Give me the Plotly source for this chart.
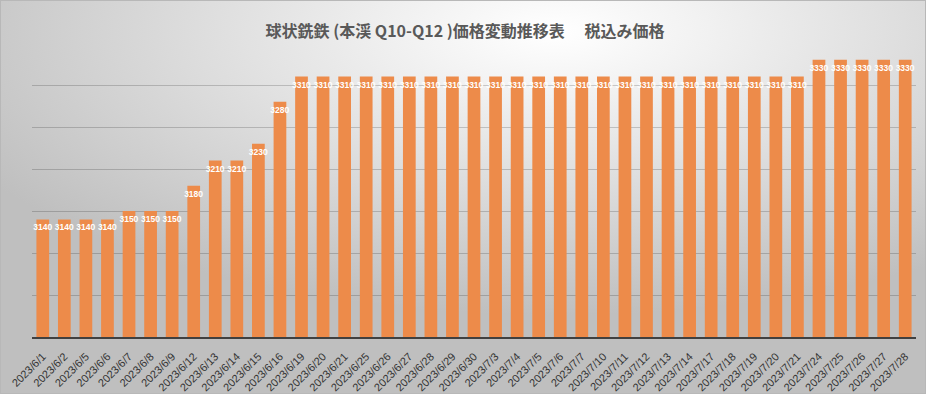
import base64
import plotly.graph_objects as go

# ---- data ----
dates = [
    "2023/6/1", "2023/6/2", "2023/6/5", "2023/6/6", "2023/6/7", "2023/6/8", "2023/6/9",
    "2023/6/12", "2023/6/13", "2023/6/14", "2023/6/15", "2023/6/16", "2023/6/19",
    "2023/6/20", "2023/6/21", "2023/6/25", "2023/6/26", "2023/6/27", "2023/6/28",
    "2023/6/29", "2023/6/30", "2023/7/3", "2023/7/4", "2023/7/5", "2023/7/6", "2023/7/7",
    "2023/7/10", "2023/7/11", "2023/7/12", "2023/7/13", "2023/7/14", "2023/7/17",
    "2023/7/18", "2023/7/19", "2023/7/20", "2023/7/21", "2023/7/24", "2023/7/25",
    "2023/7/26", "2023/7/27", "2023/7/28",
]
prices = [
    3140, 3140, 3140, 3140, 3150, 3150, 3150,
    3180, 3210, 3210, 3230, 3280, 3310,
    3310, 3310, 3310, 3310, 3310, 3310,
    3310, 3310, 3310, 3310, 3310, 3310, 3310,
    3310, 3310, 3310, 3310, 3310, 3310,
    3310, 3310, 3310, 3310, 3330, 3330,
    3330, 3330, 3330,
]
title_text = "球状銑鉄 (本渓 Q10-Q12 )価格変動推移表　 税込み価格"

# ---- layout geometry ----
W, H = 926, 394
ML, MR, MT, MB = 32, 10, 43, 57
PW, PH = W - ML - MR, H - MT - MB

svg = f"""<svg xmlns='http://www.w3.org/2000/svg' width='{W}' height='{H}' viewBox='0 0 {W} {H}' preserveAspectRatio='none'>
<defs><radialGradient id='g' cx='0.6' cy='0.08' r='0.72' gradientUnits='objectBoundingBox'>
<stop offset='0' stop-color='#ffffff'/>
<stop offset='0.2' stop-color='#f3f3f3'/>
<stop offset='1' stop-color='#bfbfbf'/>
</radialGradient></defs>
<rect x='0' y='0' width='{W}' height='{H}' fill='url(#g)'/>
<rect x='0.5' y='0.5' width='{W-1}' height='{H-1}' fill='none' stroke='#b8b8b8' stroke-width='1'/>
</svg>"""
bg_uri = "data:image/svg+xml;base64," + base64.b64encode(svg.encode("utf-8")).decode("ascii")

fig = go.Figure(
    go.Bar(
        x=dates,
        y=prices,
        marker=dict(color="#ED8B4A", line=dict(width=0)),
        text=[str(v) for v in prices],
        textposition="inside",
        insidetextanchor="end",
        textangle=0,
        constraintext="none",
        textfont=dict(family="Liberation Sans, Arial, sans-serif", size=8.5, color="white", weight="bold"),
        hoverinfo="x+y",
    )
)

fig.update_layout(
    width=W,
    height=H,
    margin=dict(l=ML, r=MR, t=MT, b=MB, pad=0, autoexpand=False),
    paper_bgcolor="#e0e0e0",
    plot_bgcolor="rgba(0,0,0,0)",
    bargap=0.41,
    showlegend=False,
    title=dict(
        text=title_text,
        x=465 / W,
        xanchor="center",
        xref="container",
        y=1 - 31 / H,
        yref="container",
        yanchor="middle",
        font=dict(family="Noto Sans CJK JP, sans-serif", size=16, color="#595959", weight="bold"),
    ),
    images=[
        dict(
            source=bg_uri,
            xref="paper",
            yref="paper",
            x=-ML / PW,
            y=1 + MT / PH,
            sizex=W / PW,
            sizey=H / PH,
            sizing="stretch",
            xanchor="left",
            yanchor="top",
            layer="below",
        )
    ],
    xaxis=dict(
        type="category",
        automargin=False,
        tickangle=-45,
        tickfont=dict(family="Liberation Sans, Arial, sans-serif", size=11, color="#333333"),
        showgrid=False,
        showline=True,
        linecolor="#404040",
        linewidth=1.5,
        ticks="",
        ticklabelstandoff=7,
    ),
    yaxis=dict(
        automargin=False,
        range=[3000, 3350],
        dtick=50,
        tick0=3000,
        showticklabels=False,
        showgrid=True,
        gridcolor="rgba(0,0,0,0.18)",
        gridwidth=1,
        zeroline=False,
        showline=False,
        ticks="",
    ),
)

fig.write_html(
    "out.html",
    config={"displayModeBar": False},
    post_script="document.body.style.margin='0';document.body.style.overflow='hidden';",
)
